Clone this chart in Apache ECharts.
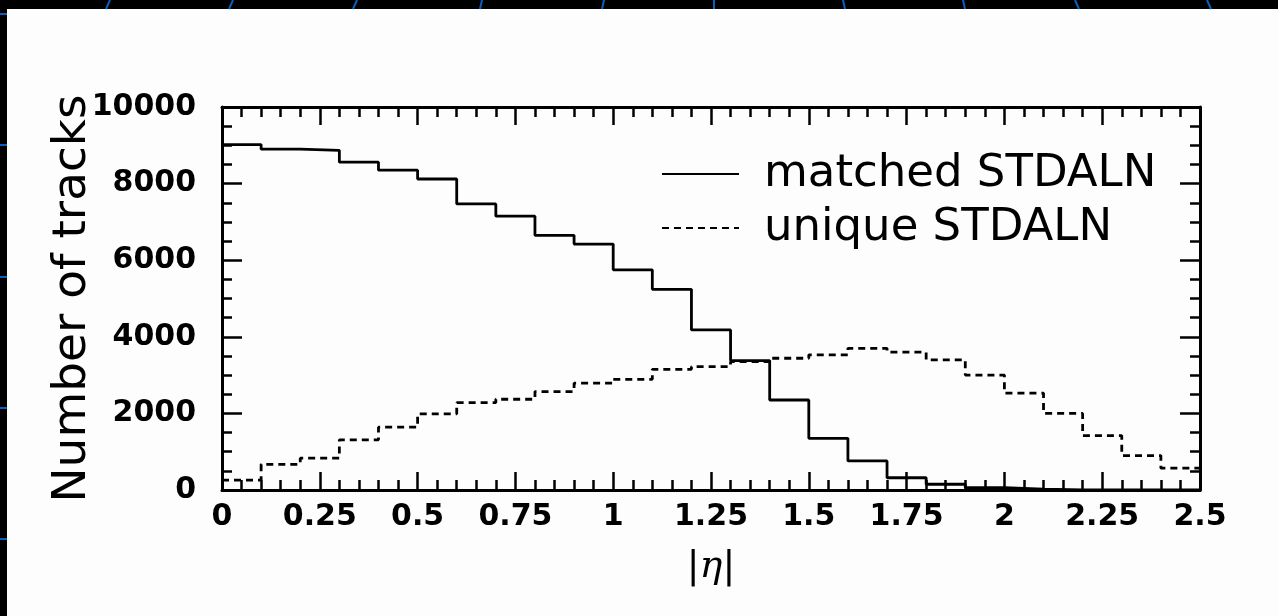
<!DOCTYPE html>
<html>
<head>
<meta charset="utf-8">
<script src="https://cdn.jsdelivr.net/npm/echarts@6/dist/echarts.min.js"></script>
<style>
  html, body { margin: 0; padding: 0; background: #000; }
  #wrap { position: relative; width: 1278px; height: 616px; background: #000; overflow: hidden; }
  #panel { position: absolute; left: 7px; top: 9px; right: 0; bottom: 0; background: #fdfdfd; }
  #chart { position: absolute; left: 0; top: 0; width: 1278px; height: 616px; }
</style>
</head>
<body>
<div id="wrap">
  <div id="panel"></div>
  <div id="chart"></div>
</div>
<script>
// bin edges in |eta|, 25 bins of 0.1
const binEdges = [0, 0.1, 0.2, 0.3, 0.4, 0.5, 0.6, 0.7, 0.8, 0.9, 1.0, 1.1, 1.2,
  1.3, 1.4, 1.5, 1.6, 1.7, 1.8, 1.9, 2.0, 2.1, 2.2, 2.3, 2.4, 2.5]
// counts per bin
const matched = [9020, 8900, 8870, 8560, 8350, 8120, 7470, 7150, 6650, 6420, 5750, 5240,
  4180, 3380, 2350, 1350, 760, 320, 150, 60, 20, 5, 0, 0, 0]
const unique = [260, 670, 830, 1310, 1640, 1990, 2280, 2370, 2570, 2790, 2890, 3150,
  3220, 3350, 3440, 3530, 3700, 3600, 3400, 3000, 2530, 2000, 1420, 900, 570]
const seriesNames = ['matched STDALN', 'unique STDALN']
const xTickLabels = ['0', '0.25', '0.5', '0.75', '1', '1.25', '1.5', '1.75', '2', '2.25', '2.5']
const yTickLabels = ['0', '2000', '4000', '6000', '8000', '10000']

// step histogram points: left edge of each bin, plus the closing right edge
function histPoints(vals) {
  return binEdges.map((x, i) => [x, vals[Math.min(i, vals.length - 1)]])
}

const blue = '#0a5fc0'
// slide decoration (globe meridians at the top, marks on the left)
const topLines = [[106, 110], [229, 233], [353, 357], [480, 482], [602, 604],
  [714, 714], [845, 843], [965, 963], [1079, 1075], [1211, 1207]]
const leftMarks = [14, 145, 277, 408, 539]
let deco = []
topLines.forEach((p) => {
  deco.push({ type: 'line', shape: { x1: p[0], y1: 9, x2: p[1], y2: 0 }, style: { stroke: blue, lineWidth: 2 } })
})
leftMarks.forEach((y) => {
  deco.push({ type: 'line', shape: { x1: 0, y1: y, x2: 7, y2: y }, style: { stroke: blue, lineWidth: 2 } })
})

const axisCommon = {
  type: 'value',
  axisLine: { show: true, onZero: false, lineStyle: { color: '#000', width: 3 } },
  splitLine: { show: false },
}
const xTick = { show: true, inside: true, length: 18, lineStyle: { color: '#000', width: 2.5 } }
const xMinor = { show: true, splitNumber: 5, length: 10, lineStyle: { color: '#000', width: 2.5 } }
const yTick = { show: true, inside: true, length: 20, lineStyle: { color: '#000', width: 2.5 } }
const yMinor = { show: true, splitNumber: 4, length: 10, lineStyle: { color: '#000', width: 2.5 } }
const labelFont = { color: '#000', fontFamily: 'DejaVu Sans', fontWeight: 'bold', fontSize: 30 }

let option = {
  animation: false,
  backgroundColor: 'transparent',
  graphic: deco,
  grid: { left: 222, right: 78, top: 107, bottom: 126 },
  legend: {
    orient: 'vertical',
    left: 656,
    top: 146,
    itemWidth: 77,
    itemHeight: 14,
    itemGap: 8,
    data: seriesNames,
    itemStyle: { opacity: 0 },
    textStyle: { color: '#000', fontFamily: 'DejaVu Sans', fontSize: 45, lineHeight: 46, padding: [0, 0, 0, 20] },
  },
  xAxis: [
    {
      ...axisCommon,
      position: 'bottom',
      min: 0,
      max: 2.5,
      interval: 0.25,
      axisTick: xTick,
      minorTick: xMinor,
      axisLabel: {
        ...labelFont,
        margin: 12,
        formatter: (v) => xTickLabels[Math.round(v / 0.25)],
      },
      name: '{b||}{e|η}{b||}',
      nameLocation: 'middle',
      nameGap: 58,
      nameMoveOverlap: false,
      nameTextStyle: {
        rich: {
          b: { fontFamily: 'DejaVu Sans', fontSize: 38, color: '#000' },
          e: { fontFamily: 'DejaVu Serif', fontStyle: 'italic', fontSize: 38, color: '#000' },
        },
      },
    },
    {
      ...axisCommon,
      position: 'top',
      min: 0,
      max: 2.5,
      interval: 0.25,
      axisTick: xTick,
      minorTick: xMinor,
      axisLabel: { show: false },
    },
  ],
  yAxis: [
    {
      ...axisCommon,
      position: 'left',
      min: 0,
      max: 10000,
      interval: 2000,
      axisTick: yTick,
      minorTick: yMinor,
      axisLabel: {
        ...labelFont,
        margin: 26,
        formatter: (v) => yTickLabels[Math.round(v / 2000)],
      },
      name: 'Number of tracks',
      nameLocation: 'middle',
      nameGap: 126,
      nameMoveOverlap: false,
      nameTextStyle: { color: '#000', fontFamily: 'DejaVu Sans', fontSize: 47 },
    },
    {
      ...axisCommon,
      position: 'right',
      min: 0,
      max: 10000,
      interval: 2000,
      axisTick: yTick,
      minorTick: yMinor,
      axisLabel: { show: false },
    },
  ],
  series: [
    {
      name: seriesNames[0],
      type: 'line',
      step: 'end',
      symbol: 'none',
      xAxisIndex: 0,
      yAxisIndex: 0,
      lineStyle: { color: '#000', width: 2.8 },
      itemStyle: { color: '#000' },
      data: histPoints(matched),
    },
    {
      name: seriesNames[1],
      type: 'line',
      step: 'end',
      symbol: 'none',
      xAxisIndex: 0,
      yAxisIndex: 0,
      lineStyle: { color: '#000', width: 2.8, type: [7, 5] },
      itemStyle: { color: '#000' },
      data: histPoints(unique),
    },
  ],
}

let myChart = echarts.init(document.getElementById('chart'))
myChart.setOption(option)
</script>
</body>
</html>
